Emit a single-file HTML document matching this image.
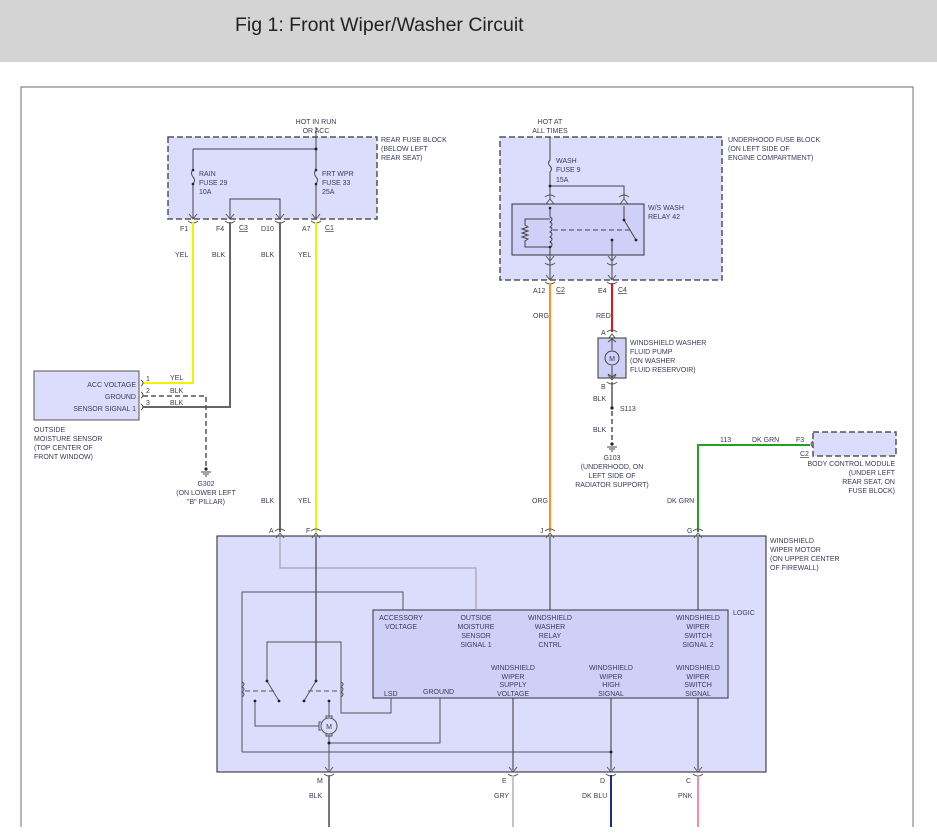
<!DOCTYPE html>
<html><head><meta charset="utf-8"><style>
html,body{margin:0;padding:0;background:#fff;width:937px;height:837px;overflow:hidden}
.hdr{position:absolute;left:0;top:0;width:937px;height:62px;background:#d4d4d4}
.hdr span{position:absolute;left:235px;top:14px;font-family:"Liberation Sans Narrow","Liberation Sans",sans-serif;font-size:19.5px;color:#222;transform:scaleX(1.0);transform-origin:left top;letter-spacing:0px}
svg{position:absolute;left:0;top:0}
text{font-family:"Liberation Sans",sans-serif;font-size:7px;fill:#3a3a5a}
</style></head><body>
<div class="hdr"><span>Fig 1: Front Wiper/Washer Circuit</span></div>
<svg width="937" height="837" viewBox="0 0 937 837">
<defs>
<g id="cd"><path d="M-4,-5 L0,0 L4,-5" fill="none" stroke="#555" stroke-width="1"/><path d="M-5,2 Q0,6 5,2" fill="none" stroke="#555" stroke-width="1"/></g>
<g id="cu"><path d="M-4,5 L0,0 L4,5" fill="none" stroke="#555" stroke-width="1"/><path d="M-5,-2 Q0,-6 5,-2" fill="none" stroke="#555" stroke-width="1"/></g>
<g id="gnd"><line x1="-5" y1="0" x2="5" y2="0" stroke="#444"/><line x1="-3" y1="2" x2="3" y2="2" stroke="#444"/><line x1="-1" y1="4" x2="1" y2="4" stroke="#444"/><circle cx="0" cy="-3" r="1.6" fill="#222"/></g>
</defs>
<path d="M21,827 V87 H913 V827" fill="none" stroke="#888" stroke-width="1.2"/>

<rect x="168" y="137" width="209" height="82" fill="#dcdcfc" stroke="#555" stroke-width="1.5" stroke-dasharray="6,3"/>
<text x="316" y="124" text-anchor="middle">HOT IN RUN</text>
<text x="316" y="133" text-anchor="middle">OR ACC</text>
<text x="381" y="142">REAR FUSE BLOCK</text>
<text x="381" y="151">(BELOW LEFT</text>
<text x="381" y="160">REAR SEAT)</text>
<g stroke="#444" fill="none" stroke-width="1">
<path d="M316,127 V170 M316,184 V219"/><path d="M193,149 H316 M193,149 V170 M193,184 V219"/>
<path d="M193,170 q-3,3 0,7 q3,3 0,7"/><path d="M316,170 q-3,3 0,7 q3,3 0,7"/>
<path d="M230,219 V199 H280 V219"/>
</g>
<g fill="#222"><circle cx="316" cy="149" r="1.5"/><circle cx="193" cy="170" r="1.3"/><circle cx="193" cy="184" r="1.3"/><circle cx="316" cy="170" r="1.3"/><circle cx="316" cy="184" r="1.3"/></g>
<text x="199" y="176">RAIN</text><text x="199" y="185">FUSE 29</text><text x="199" y="194">10A</text>
<text x="322" y="176">FRT WPR</text><text x="322" y="185">FUSE 33</text><text x="322" y="194">25A</text>
<use href="#cd" x="193" y="219"/><use href="#cd" x="230" y="219"/><use href="#cd" x="280" y="219"/><use href="#cd" x="316" y="219"/>
<text x="180" y="231">F1</text><text x="216" y="231">F4</text><text x="239" y="230" text-decoration="underline">C3</text><text x="261" y="231">D10</text><text x="302" y="231">A7</text><text x="325" y="230" text-decoration="underline">C1</text>
<path d="M193,222 V383 H143" fill="none" stroke="#f4f000" stroke-width="2"/>
<path d="M316,222 V532" fill="none" stroke="#f4f000" stroke-width="2"/>
<path d="M230,222 V407 H143" fill="none" stroke="#666" stroke-width="2"/>
<path d="M280,222 V532" fill="none" stroke="#666" stroke-width="2"/>
<text x="175" y="257">YEL</text><text x="212" y="257">BLK</text><text x="261" y="257">BLK</text><text x="298" y="257">YEL</text>
<text x="261" y="503">BLK</text><text x="298" y="503">YEL</text>

<rect x="34" y="371" width="105" height="49" fill="#dcdcfc" stroke="#555" stroke-width="1"/>
<text x="136" y="387" text-anchor="end">ACC VOLTAGE</text>
<text x="136" y="399" text-anchor="end">GROUND</text>
<text x="136" y="411" text-anchor="end">SENSOR SIGNAL 1</text>
<g fill="none" stroke="#555"><path d="M141,380 q4,3 0,6"/><path d="M141,392 q4,3 0,6"/><path d="M141,404 q4,3 0,6"/></g>
<text x="146" y="381" fill="#3a5aaa">1</text><text x="146" y="393">2</text><text x="146" y="405">3</text>
<text x="170" y="380">YEL</text><text x="170" y="393">BLK</text><text x="170" y="405">BLK</text>
<path d="M143,396 H206 V468" fill="none" stroke="#555" stroke-width="1.5" stroke-dasharray="5,3"/>
<use href="#gnd" x="206" y="472"/>
<text x="206" y="486" text-anchor="middle">G302</text>
<text x="206" y="495" text-anchor="middle">(ON LOWER LEFT</text>
<text x="206" y="504" text-anchor="middle">"B" PILLAR)</text>
<text x="34" y="432">OUTSIDE</text><text x="34" y="441">MOISTURE SENSOR</text><text x="34" y="450">(TOP CENTER OF</text><text x="34" y="459">FRONT WINDOW)</text>

<rect x="500" y="137" width="222" height="143" fill="#dcdcfc" stroke="#555" stroke-width="1.5" stroke-dasharray="6,3"/>
<text x="550" y="124" text-anchor="middle">HOT AT</text><text x="550" y="133" text-anchor="middle">ALL TIMES</text>
<text x="728" y="142">UNDERHOOD FUSE BLOCK</text><text x="728" y="151">(ON LEFT SIDE OF</text><text x="728" y="160">ENGINE COMPARTMENT)</text>
<text x="556" y="163">WASH</text><text x="556" y="172">FUSE 9</text><text x="556" y="182">15A</text>
<rect x="512" y="204" width="132" height="51" fill="#cfd0f8" stroke="#333" stroke-width="1"/>
<g stroke="#444" fill="none" stroke-width="1">
<path d="M550,137 V160 q-3,3 0,6 q3,3 0,6 V200"/><path d="M550,186 H624 V200"/>
<path d="M550,208 V217 M550,248 V280"/><path d="M550,217 q4,2 0,5 q4,2 0,5 q4,2 0,5 q4,2 0,5 q4,2 0,5 q4,2 0,6"/>
<path d="M550,219 H525 V225 l3,2 -6,2 6,2 -6,2 6,2 -6,2 6,2 -3,2 V247 H550"/>
<path d="M553,230 H630" stroke-dasharray="5,3"/>
<path d="M624,206 V220 L636,240"/><path d="M612,240 V280"/>
</g>
<g fill="#222"><circle cx="550" cy="186" r="1.4"/><circle cx="550" cy="208" r="1.3"/><circle cx="550" cy="247" r="1.3"/><circle cx="624" cy="220" r="1.4"/><circle cx="636" cy="240" r="1.4"/><circle cx="612" cy="240" r="1.4"/></g>
<use href="#cu" x="550" y="199"/><use href="#cu" x="624" y="199"/>
<use href="#cd" x="550" y="261"/><use href="#cd" x="612" y="261"/>
<use href="#cd" x="550" y="280"/><use href="#cd" x="612" y="280"/>
<text x="648" y="210">W/S WASH</text><text x="648" y="219">RELAY 42</text>
<text x="533" y="293">A12</text><text x="556" y="292" text-decoration="underline">C2</text>
<text x="598" y="293">E4</text><text x="618" y="292" text-decoration="underline">C4</text>
<path d="M550,283 V532" stroke="#ff9020" stroke-width="2"/>
<path d="M612,283 V332" stroke="#ee1111" stroke-width="2"/>
<text x="533" y="318">ORG</text><text x="596" y="318">RED</text>
<text x="532" y="503">ORG</text>

<use href="#cu" x="612" y="334"/>
<text x="601" y="335">A</text>
<rect x="598" y="338" width="28" height="40" fill="#cfd0f8" stroke="#333"/>
<g stroke="#444" fill="none"><path d="M612,339 V350 M612,366 V377"/><circle cx="612" cy="358" r="7"/><path d="M608,342 l4,-3 4,3 M608,374 l4,3 4,-3"/></g>
<text x="612" y="361" text-anchor="middle" fill="#2040a0" font-size="8">M</text>
<text x="630" y="345">WINDSHIELD WASHER</text><text x="630" y="354">FLUID PUMP</text><text x="630" y="363">(ON WASHER</text><text x="630" y="372">FLUID RESERVOIR)</text>
<use href="#cd" x="612" y="380"/>
<text x="601" y="389">B</text>
<path d="M612,382 V408" stroke="#555" stroke-width="1.5"/>
<text x="593" y="401">BLK</text>
<circle cx="612" cy="408" r="1.6" fill="#222"/><text x="620" y="411">S113</text>
<path d="M612,411 V442" stroke="#555" stroke-width="1.5" stroke-dasharray="5,3"/>
<text x="593" y="432">BLK</text>
<use href="#gnd" x="612" y="447"/>
<text x="612" y="460" text-anchor="middle">G103</text><text x="612" y="469" text-anchor="middle">(UNDERHOOD, ON</text><text x="612" y="478" text-anchor="middle">LEFT SIDE OF</text><text x="612" y="487" text-anchor="middle">RADIATOR SUPPORT)</text>

<path d="M698,532 V445 H810" fill="none" stroke="#22a022" stroke-width="2"/>
<text x="720" y="442">113</text><text x="752" y="442">DK GRN</text><text x="796" y="442">F3</text>
<text x="800" y="456" text-decoration="underline">C2</text>
<path d="M813,441 q-4,3 0,6" fill="none" stroke="#555"/>
<rect x="813" y="432" width="83" height="24" fill="#dcdcfc" stroke="#555" stroke-width="1.5" stroke-dasharray="6,3"/>
<text x="895" y="466" text-anchor="end">BODY CONTROL MODULE</text><text x="895" y="475" text-anchor="end">(UNDER LEFT</text><text x="895" y="484" text-anchor="end">REAR SEAT, ON</text><text x="895" y="493" text-anchor="end">FUSE BLOCK)</text>
<text x="667" y="503">DK GRN</text>

<rect x="217" y="536" width="549" height="236" fill="#dcdcfc" stroke="#222" stroke-width="1"/>
<use href="#cu" x="280" y="533"/><use href="#cu" x="316" y="533"/><use href="#cu" x="550" y="533"/><use href="#cu" x="698" y="533"/>
<text x="269" y="533">A</text><text x="306" y="533">F</text><text x="540" y="533">J</text><text x="687" y="533">G</text>
<text x="770" y="543">WINDSHIELD</text><text x="770" y="552">WIPER MOTOR</text><text x="770" y="561">(ON UPPER CENTER</text><text x="770" y="570">OF FIREWALL)</text>
<text x="733" y="615">LOGIC</text>
<rect x="373" y="610" width="355" height="88" fill="#cfd0f8" stroke="#333" stroke-width="1"/>
<g text-anchor="middle">
<text x="401" y="620">ACCESSORY</text><text x="401" y="629">VOLTAGE</text>
<text x="476" y="620">OUTSIDE</text><text x="476" y="629">MOISTURE</text><text x="476" y="638">SENSOR</text><text x="476" y="647">SIGNAL 1</text>
<text x="550" y="620">WINDSHIELD</text><text x="550" y="629">WASHER</text><text x="550" y="638">RELAY</text><text x="550" y="647">CNTRL</text>
<text x="698" y="620">WINDSHIELD</text><text x="698" y="629">WIPER</text><text x="698" y="638">SWITCH</text><text x="698" y="647">SIGNAL 2</text>
<text x="513" y="670">WINDSHIELD</text><text x="513" y="679">WIPER</text><text x="513" y="687">SUPPLY</text><text x="513" y="696">VOLTAGE</text>
<text x="611" y="670">WINDSHIELD</text><text x="611" y="679">WIPER</text><text x="611" y="687">HIGH</text><text x="611" y="696">SIGNAL</text>
<text x="698" y="670">WINDSHIELD</text><text x="698" y="679">WIPER</text><text x="698" y="687">SWITCH</text><text x="698" y="696">SIGNAL</text>
</g>
<text x="384" y="696">LSD</text><text x="423" y="694">GROUND</text>
<g fill="none" stroke="#555" stroke-width="1">
<path d="M280,537 V568 H476 V610" stroke="#999"/>
<path d="M316,537 V681" stroke="#222"/>
<path d="M550,537 V610 M698,537 V610" stroke="#333"/>
<path d="M513,698 V770 M611,698 V770 M698,698 V770" stroke="#333"/>
<path d="M242,752 V592 H403 V610"/>
<path d="M242,752 H611"/>
<path d="M267,681 V642 H341 V713 H391 V698"/>
<path d="M267,681 L279,701 M316,681 L304,701"/>
<path d="M242,682 q4,2 0,5 q4,2 0,5 q4,2 0,5"/><path d="M341,682 q4,2 0,5 q4,2 0,5 q4,2 0,5"/>
<path d="M245,691 H275 M308,691 H338" stroke-dasharray="5,3"/>
<path d="M255,701 V726 H319"/>
<path d="M329,701 V717 M329,735 V770"/>
<circle cx="329" cy="726" r="8"/>
<path d="M321,722 h-2 v8 h2 M326,718 v-2 h6 v2 M326,734 v2 h6 v-2"/>
<path d="M440,698 V743 H329"/>
</g>
<text x="329" y="729" text-anchor="middle" fill="#2040a0" font-size="9">M</text>
<g fill="#222"><circle cx="267" cy="681" r="1.4"/><circle cx="279" cy="701" r="1.4"/><circle cx="316" cy="681" r="1.4"/><circle cx="304" cy="701" r="1.4"/><circle cx="255" cy="701" r="1.4"/><circle cx="329" cy="701" r="1.4"/><circle cx="329" cy="743" r="1.5"/><circle cx="611" cy="752" r="1.5"/></g>
<use href="#cd" x="329" y="772"/><use href="#cd" x="513" y="772"/><use href="#cd" x="611" y="772"/><use href="#cd" x="698" y="772"/>
<text x="317" y="783">M</text><text x="502" y="783">E</text><text x="600" y="783">D</text><text x="686" y="783">C</text>
<text x="309" y="798">BLK</text><text x="494" y="798">GRY</text><text x="582" y="798">DK BLU</text><text x="678" y="798">PNK</text>
<path d="M329,775 V827" stroke="#777" stroke-width="2"/>
<path d="M513,775 V827" stroke="#c4c4c4" stroke-width="2"/>
<path d="M611,775 V827" stroke="#1a2a9a" stroke-width="2"/>
<path d="M698,775 V827" stroke="#f48ca4" stroke-width="2"/>
</svg>
</body></html>
